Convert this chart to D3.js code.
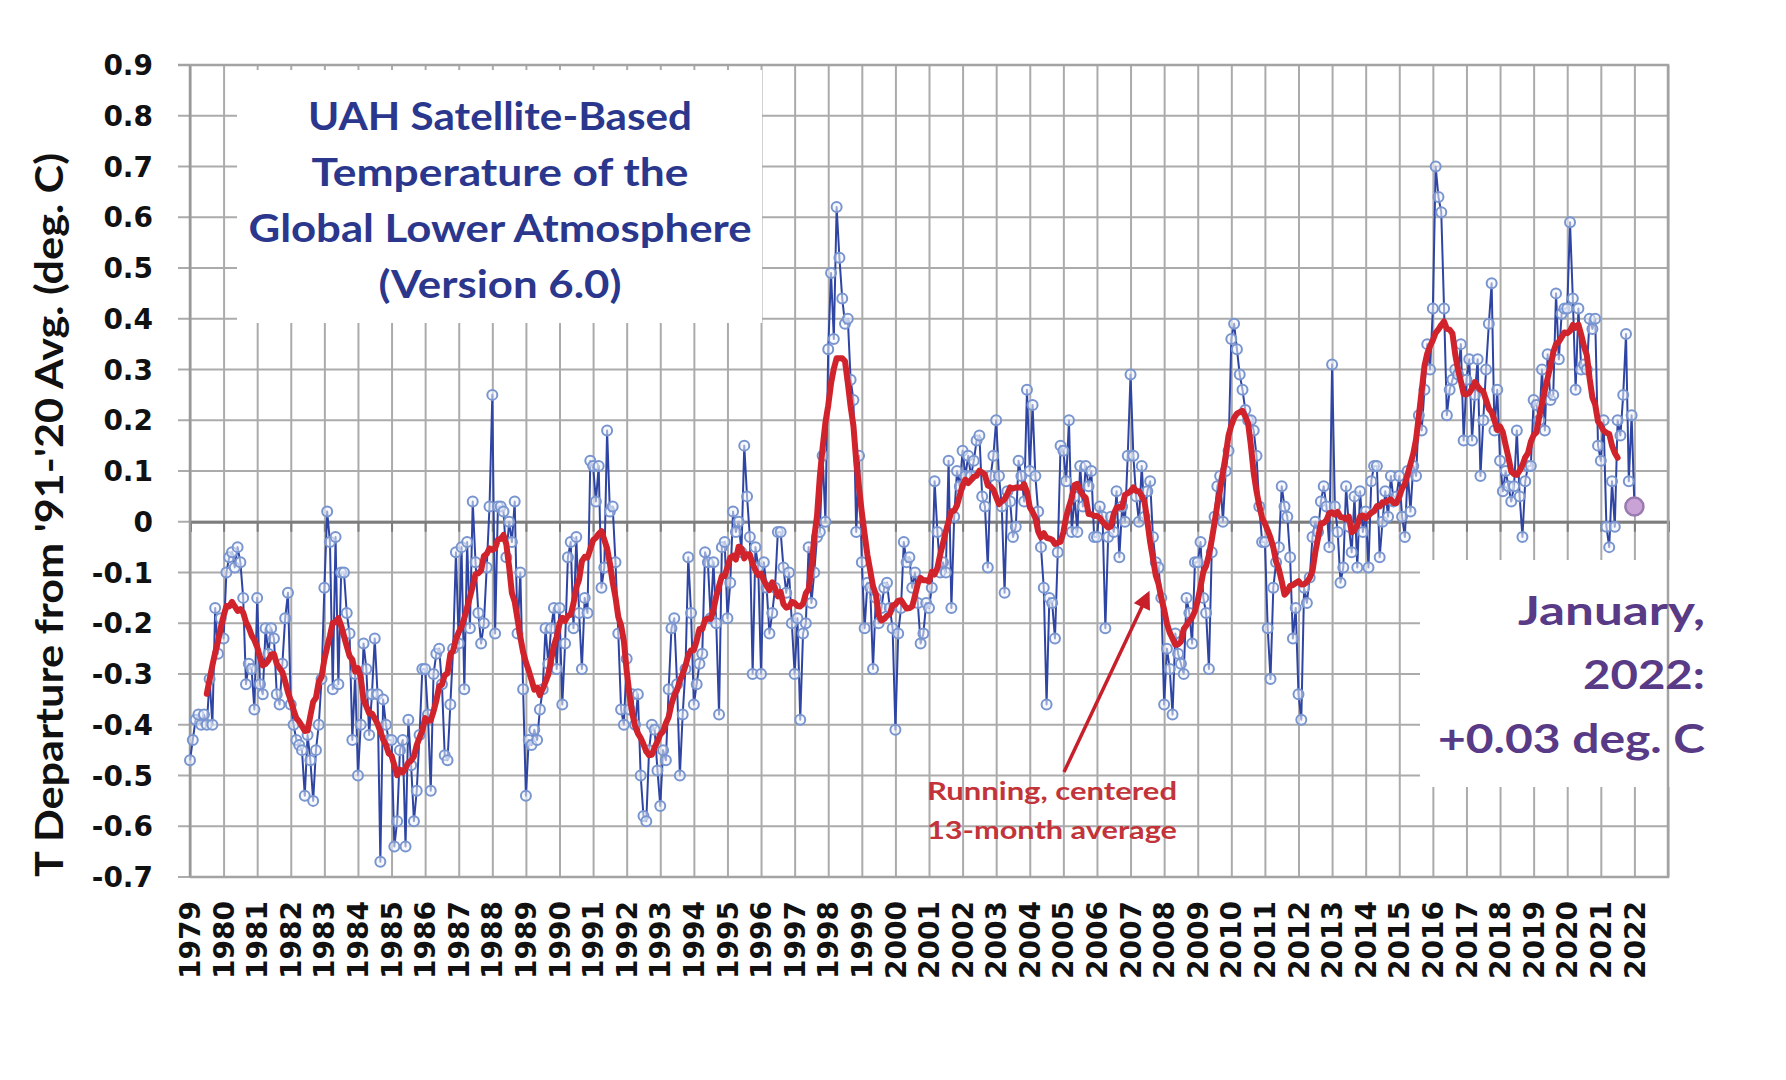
<!DOCTYPE html>
<html lang="en">
    <head>
        <meta charset="utf-8">
        <title>UAH Global Lower Atmosphere</title>
        <script type="text/javascript" src="https://cdn.jsdelivr.net/npm/d3@7"></script>
        <style>
            body { margin: 0; background: #fff; }
            svg { display: block; }
            .tick-label { font-family: "DejaVu Sans", sans-serif; font-weight: bold; font-size: 28px; fill: #111; }
            .note { font-family: Lato, "Open Sans", sans-serif; font-weight: bold; }
        </style>
    </head>
    <body>
        <div id="chart"></div>
        <script type="text/javascript">
            // monthly anomalies, Jan 1979 .. Jan 2022 (one row per year)
            var firstYear = 1979;
            var uahMonthly = [
                -0.47,-0.43,-0.39,-0.38,-0.40,-0.38,-0.40,-0.31,-0.40,-0.17,-0.26,-0.19, // 1979
                -0.23,-0.10,-0.07,-0.06,-0.09,-0.05,-0.08,-0.15,-0.32,-0.28,-0.29,-0.37, // 1980
                -0.15,-0.32,-0.34,-0.21,-0.26,-0.21,-0.23,-0.34,-0.36,-0.28,-0.19,-0.14, // 1981
                -0.36,-0.40,-0.43,-0.44,-0.45,-0.54,-0.42,-0.47,-0.55,-0.45,-0.40,-0.31, // 1982
                -0.13, 0.02,-0.04,-0.33,-0.03,-0.32,-0.10,-0.10,-0.18,-0.22,-0.43,-0.30, // 1983
                -0.50,-0.40,-0.24,-0.29,-0.42,-0.34,-0.23,-0.34,-0.67,-0.35,-0.40,-0.43, // 1984
                -0.43,-0.64,-0.59,-0.45,-0.43,-0.64,-0.39,-0.48,-0.59,-0.53,-0.42,-0.29, // 1985
                -0.29,-0.38,-0.53,-0.30,-0.26,-0.25,-0.32,-0.46,-0.47,-0.36,-0.25,-0.06, // 1986
                -0.24,-0.05,-0.33,-0.04,-0.21, 0.04,-0.08,-0.18,-0.24,-0.20,-0.09, 0.03, // 1987
                 0.25,-0.22, 0.03, 0.03, 0.02,-0.07, 0.00,-0.04, 0.04,-0.22,-0.10,-0.33, // 1988
                -0.54,-0.43,-0.44,-0.41,-0.43,-0.37,-0.33,-0.21,-0.28,-0.21,-0.17,-0.29, // 1989
                -0.17,-0.36,-0.24,-0.07,-0.04,-0.21,-0.03,-0.18,-0.29,-0.15,-0.18, 0.12, // 1990
                 0.11, 0.04, 0.11,-0.13,-0.09, 0.18, 0.02, 0.03,-0.08,-0.22,-0.37,-0.40, // 1991
                -0.27,-0.37,-0.34,-0.40,-0.34,-0.50,-0.58,-0.59,-0.45,-0.40,-0.41,-0.49, // 1992
                -0.56,-0.45,-0.47,-0.33,-0.21,-0.19,-0.32,-0.50,-0.38,-0.29,-0.07,-0.18, // 1993
                -0.36,-0.32,-0.28,-0.26,-0.06,-0.08,-0.19,-0.08,-0.20,-0.38,-0.05,-0.04, // 1994
                -0.19,-0.12, 0.02,-0.02, 0.00,-0.06, 0.15, 0.05,-0.03,-0.30,-0.05,-0.09, // 1995
                -0.30,-0.08,-0.13,-0.22,-0.18,-0.13,-0.02,-0.02,-0.09,-0.14,-0.10,-0.20, // 1996
                -0.30,-0.19,-0.39,-0.22,-0.20,-0.05,-0.16,-0.10,-0.03,-0.02, 0.13, 0.00, // 1997
                 0.34, 0.49, 0.36, 0.62, 0.52, 0.44, 0.39, 0.40, 0.28, 0.24,-0.02, 0.13, // 1998
                -0.08,-0.21,-0.12,-0.13,-0.29,-0.15,-0.20,-0.17,-0.13,-0.12,-0.17,-0.21, // 1999
                -0.41,-0.22,-0.17,-0.04,-0.08,-0.07,-0.13,-0.10,-0.16,-0.24,-0.22,-0.16, // 2000
                -0.17,-0.13, 0.08,-0.02,-0.10,-0.08,-0.10, 0.12,-0.17, 0.01, 0.10, 0.07, // 2001
                 0.14, 0.09, 0.13, 0.09, 0.12, 0.16, 0.17, 0.05, 0.03,-0.09, 0.09, 0.13, // 2002
                 0.20, 0.09, 0.03,-0.14, 0.06, 0.04,-0.03,-0.01, 0.12, 0.09, 0.04, 0.26, // 2003
                 0.10, 0.23, 0.09, 0.02,-0.05,-0.13,-0.36,-0.15,-0.16,-0.23,-0.06, 0.15, // 2004
                 0.14, 0.08, 0.20,-0.02, 0.05,-0.02, 0.11, 0.03, 0.11, 0.07, 0.10,-0.03, // 2005
                -0.03, 0.03, 0.01,-0.21,-0.03, 0.01,-0.02, 0.06,-0.07, 0.03, 0.00, 0.13, // 2006
                 0.29, 0.13, 0.05, 0.00, 0.11, 0.01, 0.06, 0.08,-0.03,-0.08,-0.09,-0.15, // 2007
                -0.36,-0.25,-0.29,-0.38,-0.22,-0.26,-0.28,-0.30,-0.15,-0.18,-0.24,-0.08, // 2008
                -0.08,-0.04,-0.15,-0.18,-0.29,-0.06, 0.01, 0.07, 0.09, 0.00, 0.10, 0.14, // 2009
                 0.36, 0.39, 0.34, 0.29, 0.26, 0.22, 0.20, 0.20, 0.18, 0.13, 0.03,-0.04, // 2010
                -0.04,-0.21,-0.31,-0.13,-0.08,-0.05, 0.07, 0.03, 0.01,-0.07,-0.23,-0.17, // 2011
                -0.34,-0.39,-0.13,-0.16,-0.11,-0.03, 0.00,-0.02, 0.04, 0.07, 0.03,-0.05, // 2012
                 0.31, 0.03,-0.02,-0.12,-0.09, 0.07,-0.01,-0.06, 0.05,-0.09, 0.06,-0.02, // 2013
                 0.02,-0.09, 0.08, 0.11, 0.11,-0.07, 0.00, 0.06, 0.01, 0.09, 0.04, 0.05, // 2014
                 0.09, 0.01,-0.03, 0.10, 0.02, 0.11, 0.09, 0.21, 0.18, 0.26, 0.35, 0.30, // 2015
                 0.42, 0.70, 0.64, 0.61, 0.42, 0.21, 0.26, 0.28, 0.30, 0.29, 0.35, 0.16, // 2016
                 0.28, 0.32, 0.16, 0.25, 0.32, 0.09, 0.20, 0.30, 0.39, 0.47, 0.18, 0.26, // 2017
                 0.12, 0.06, 0.10, 0.07, 0.04, 0.07, 0.18, 0.05,-0.03, 0.08, 0.11, 0.11, // 2018
                 0.24, 0.23, 0.20, 0.30, 0.18, 0.33, 0.24, 0.25, 0.45, 0.32, 0.41, 0.42, // 2019
                 0.42, 0.59, 0.44, 0.26, 0.42, 0.30, 0.31, 0.30, 0.40, 0.38, 0.40, 0.15, // 2020
                 0.12, 0.20,-0.01,-0.05, 0.08,-0.01, 0.20, 0.17, 0.25, 0.37, 0.08, 0.21, // 2021
                 0.03                                                                   // 2022
            ];

            var yearLabels = d3.range(1979, 2023);       // 1979 .. 2022
            var gridYears = d3.range(1979, 2024);        // year boundaries
            var yTickValues = [0.9, 0.8, 0.7, 0.6, 0.5, 0.4, 0.3, 0.2, 0.1, 0, -0.1, -0.2, -0.3, -0.4, -0.5, -0.6, -0.7];
            var yTickLabels = ["0.9", "0.8", "0.7", "0.6", "0.5", "0.4", "0.3", "0.2", "0.1", "0", "-0.1", "-0.2", "-0.3", "-0.4", "-0.5", "-0.6", "-0.7"];
            var titleLines = ["UAH Satellite-Based", "Temperature of the", "Global Lower Atmosphere", "(Version 6.0)"];
            var latestLines = ["January,", "2022:", "+0.03 deg. C"];
            var avgLines = ["Running, centered", "13-month average"];
            var yTitle = "T Departure from '91-'20 Avg. (deg. C)";

            var w = 1786, h = 1080;
            // plot box (note: "top" is reserved on window, so use a prefix)
            var plotL = 190, plotR = 1668, plotT = 65, plotB = 877;

            var svg = d3.select("#chart").append("svg").attr("width", w).attr("height", h);
            svg.append("rect").attr("width", w).attr("height", h).attr("fill", "#fff");

            var x = d3.scaleLinear().domain([1979, 2023]).range([plotL, plotR]);
            var y = d3.scaleLinear().domain([-0.7, 0.9]).range([plotB, plotT]);

            var points = uahMonthly.map(function(v, i) {
                return { t: firstYear + i / 12, v: v };
            });

            // running, centered 13-month average
            var running = [];
            for (var i = 6; i < points.length - 6; i++) {
                running.push({ t: points[i].t, v: d3.mean(uahMonthly.slice(i - 6, i + 7)) });
            }

            var gridColor = "#ababab";

            // horizontal grid lines (with the small outside ticks on the left)
            svg.append("g").selectAll("line")
                .data(yTickValues)
                .enter()
                .append("line")
                .attr("x1", plotL - 12)
                .attr("x2", plotR)
                .attr("y1", function(d) { return y(d); })
                .attr("y2", function(d) { return y(d); })
                .attr("stroke", gridColor)
                .attr("stroke-width", 2);

            // vertical grid lines, one per year
            svg.append("g")
                .attr("transform", "translate(0," + plotB + ")")
                .call(d3.axisBottom(x).tickValues(gridYears).tickSize(-(plotB - plotT)).tickFormat(""))
                .call(function(g) {
                    g.select(".domain").remove();
                    g.selectAll(".tick line").attr("stroke", gridColor).attr("stroke-width", 2);
                });

            // white boxes behind the title and the latest value
            svg.append("rect").attr("x", 237).attr("y", 70).attr("width", 525).attr("height", 253).attr("fill", "#fff");
            svg.append("rect").attr("x", 1420).attr("y", 560).attr("width", 300).attr("height", 227).attr("fill", "#fff");

            // zero axis with year ticks
            svg.append("g")
                .attr("transform", "translate(0," + y(0) + ")")
                .call(d3.axisBottom(x).tickValues(gridYears).tickSize(10).tickFormat(""))
                .call(function(g) {
                    g.select(".domain").attr("stroke", "#7d7d7d").attr("stroke-width", 3);
                    g.selectAll(".tick line").attr("stroke", "#7d7d7d").attr("stroke-width", 2);
                });

            // left axis line
            svg.append("line")
                .attr("x1", plotL).attr("x2", plotL)
                .attr("y1", plotT).attr("y2", plotB)
                .attr("stroke", "#999").attr("stroke-width", 2.5);

            // y tick labels
            svg.append("g").selectAll("text")
                .data(yTickValues)
                .enter()
                .append("text")
                .attr("class", "tick-label")
                .attr("x", 153)
                .attr("y", function(d) { return y(d); })
                .attr("dy", "0.36em")
                .attr("text-anchor", "end")
                .text(function(d, i) { return yTickLabels[i]; });

            // x tick labels (rotated)
            svg.append("g").selectAll("text")
                .data(yearLabels)
                .enter()
                .append("text")
                .attr("class", "tick-label")
                .attr("transform", function(d) { return "translate(" + x(d) + ",901) rotate(-90)"; })
                .attr("dy", "0.36em")
                .attr("text-anchor", "end")
                .attr("textLength", 78)
                .attr("lengthAdjust", "spacingAndGlyphs")
                .text(function(d) { return d; });

            // y axis title
            svg.append("text")
                .attr("class", "note")
                .attr("transform", "translate(63,515) rotate(-90)")
                .attr("text-anchor", "middle")
                .attr("font-size", 39)
                .attr("fill", "#111")
                .attr("textLength", 724)
                .attr("lengthAdjust", "spacingAndGlyphs")
                .text(yTitle);

            // monthly series
            var line = d3.line()
                .x(function(d) { return x(d.t); })
                .y(function(d) { return y(d.v); });

            svg.append("path")
                .datum(points)
                .attr("d", line)
                .attr("fill", "none")
                .attr("stroke", "#2f45a3")
                .attr("stroke-width", 2)
                .attr("stroke-linejoin", "round");

            svg.append("g").selectAll("circle")
                .data(points.slice(0, points.length - 1))
                .enter()
                .append("circle")
                .attr("cx", function(d) { return x(d.t); })
                .attr("cy", function(d) { return y(d.v); })
                .attr("r", 5)
                .attr("fill", "rgba(240,244,252,0.55)")
                .attr("stroke", "#7895d0")
                .attr("stroke-width", 2);

            // latest month
            var last = points[points.length - 1];
            svg.append("circle")
                .attr("cx", x(last.t))
                .attr("cy", y(last.v))
                .attr("r", 9)
                .attr("fill", "#c9a3d6")
                .attr("stroke", "#9a7aaf")
                .attr("stroke-width", 2.5);

            // running average
            svg.append("path")
                .datum(running)
                .attr("d", line)
                .attr("fill", "none")
                .attr("stroke", "#d0232b")
                .attr("stroke-width", 6)
                .attr("stroke-linejoin", "round")
                .attr("stroke-linecap", "round");

            // plot border (top and right)
            svg.append("path")
                .attr("d", "M" + (plotL - 12) + "," + plotT + "H" + plotR + "V" + plotB + "H" + plotL)
                .attr("fill", "none")
                .attr("stroke", "#a3a3a3")
                .attr("stroke-width", 2.5);

            // title
            var titleWidths = [384, 377, 503, 243];
            svg.append("g").selectAll("text")
                .data(titleLines)
                .enter()
                .append("text")
                .attr("class", "note")
                .attr("x", 500)
                .attr("y", function(d, i) { return 130 + i * 56; })
                .attr("text-anchor", "middle")
                .attr("font-size", 39)
                .attr("fill", "#2b378d")
                .attr("textLength", function(d, i) { return titleWidths[i]; })
                .attr("lengthAdjust", "spacingAndGlyphs")
                .text(function(d) { return d; });

            // latest value note
            var latestWidths = [187, 122, 267];
            svg.append("g").selectAll("text")
                .data(latestLines)
                .enter()
                .append("text")
                .attr("class", "note")
                .attr("x", 1705)
                .attr("y", function(d, i) { return 625 + i * 64; })
                .attr("text-anchor", "end")
                .attr("font-size", 41)
                .attr("fill", "#583a86")
                .attr("textLength", function(d, i) { return latestWidths[i]; })
                .attr("lengthAdjust", "spacingAndGlyphs")
                .text(function(d) { return d; });

            // arrow + label for the running average
            svg.append("defs").append("marker")
                .attr("id", "head")
                .attr("markerUnits", "userSpaceOnUse")
                .attr("viewBox", "0 0 10 10")
                .attr("refX", 8).attr("refY", 5)
                .attr("markerWidth", 20).attr("markerHeight", 18)
                .attr("orient", "auto")
                .append("path")
                .attr("d", "M0,0 L10,5 L0,10 z")
                .attr("fill", "#c8202a");

            svg.append("line")
                .attr("x1", 1064).attr("y1", 772)
                .attr("x2", 1148).attr("y2", 594)
                .attr("stroke", "#c8202a")
                .attr("stroke-width", 3.5)
                .attr("marker-end", "url(#head)");

            svg.append("g").selectAll("text")
                .data(avgLines)
                .enter()
                .append("text")
                .attr("class", "note")
                .attr("x", 927)
                .attr("y", function(d, i) { return 800 + i * 39; })
                .attr("font-size", 24)
                .attr("fill", "#c2343a")
                .attr("textLength", 250)
                .attr("lengthAdjust", "spacingAndGlyphs")
                .text(function(d) { return d; });
        </script>
    </body>
</html>
